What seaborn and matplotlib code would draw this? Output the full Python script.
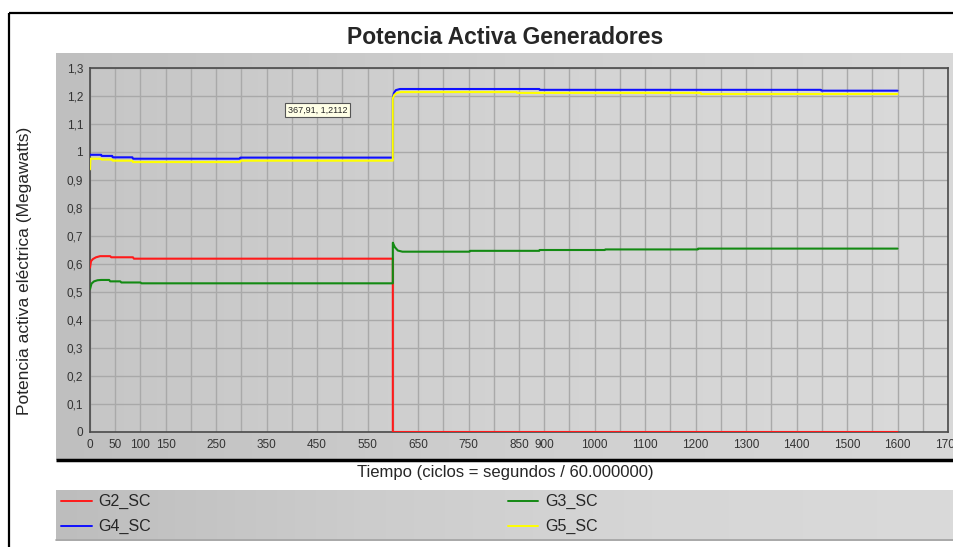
import numpy as np
import pandas as pd
import matplotlib
matplotlib.use("Agg")
import matplotlib.pyplot as plt
import seaborn as sns
from matplotlib.patches import Rectangle

# data (time in cycles, power in MW)
t_g2 = [0, 2, 6, 12, 20, 40, 42, 85, 87, 600, 600, 1600]
p_g2 = [0.587, 0.610, 0.618, 0.624, 0.628, 0.628, 0.624, 0.624, 0.619, 0.619, 0.0, 0.0]

t_g3 = [0, 3, 8, 15, 22, 38, 40, 60, 62, 100, 102, 600, 600, 604, 610, 619,
        752, 753, 890, 891, 1020, 1021, 1204, 1205, 1600]
p_g3 = [0.510, 0.530, 0.538, 0.542, 0.543, 0.543, 0.538, 0.538, 0.534, 0.534, 0.531, 0.531,
        0.676, 0.660, 0.648, 0.644, 0.644, 0.647, 0.647, 0.650, 0.650, 0.652, 0.652, 0.655, 0.655]

t_g4 = [0, 22, 23, 44, 45, 84, 85, 297, 298, 600, 600, 602, 606, 614, 890, 891, 1448, 1449, 1600]
p_g4 = [0.990, 0.990, 0.986, 0.986, 0.981, 0.981, 0.976, 0.976, 0.980, 0.980,
        1.192, 1.210, 1.221, 1.225, 1.225, 1.222, 1.222, 1.219, 1.219]

t_g5 = [0, 1, 22, 23, 44, 45, 84, 85, 297, 298, 600, 600, 603, 608, 616, 845, 846, 1210, 1211, 1600]
p_g5 = [0.938, 0.976, 0.976, 0.973, 0.973, 0.969, 0.969, 0.964, 0.964, 0.969, 0.969,
        1.192, 1.204, 1.211, 1.214, 1.214, 1.211, 1.211, 1.207, 1.207]

names = ["G2_SC", "G3_SC", "G4_SC", "G5_SC"]
colors = {"G2_SC": "#ff1a1a", "G3_SC": "#138a13", "G4_SC": "#1010ff", "G5_SC": "#ffff00"}

x_labels = [0, 50, 100, 150, 250, 350, 450, 550, 650, 750, 850, 900,
            1000, 1100, 1200, 1300, 1400, 1500, 1600, 1700]
y_ticks = [0, 0.1, 0.2, 0.3, 0.4, 0.5, 0.6, 0.7, 0.8, 0.9, 1.0, 1.1, 1.2, 1.3]

frames = []
for n, t, p in zip(names, [t_g2, t_g3, t_g4, t_g5], [p_g2, p_g3, p_g4, p_g5]):
    frames.append(pd.DataFrame({"t": t, "p": p, "gen": n}))
df = pd.concat(frames, ignore_index=True)

sns.set_style("white")
plt.rcParams["font.family"] = ["Liberation Sans", "DejaVu Sans"]

W, H = 954, 547
fig = plt.figure(figsize=(W / 100, H / 100), dpi=100)


def fx(x):
    return x / W


def fy(y):
    return 1 - y / H


def ramp(name, cols):
    return matplotlib.colors.LinearSegmentedColormap.from_list(name, cols)


# background decorations in pixel coords
bg = fig.add_axes([0, 0, 1, 1], zorder=-5)
bg.set_xlim(0, W)
bg.set_ylim(H, 0)
bg.axis("off")
grad = np.linspace(0, 1, 256).reshape(1, -1)
bg.imshow(grad, extent=(56, W, 460, 53), cmap=ramp("p", ["#bfbfbf", "#cfcfcf", "#d8d8d8"]),
          aspect="auto", zorder=1)
bg.imshow(grad, extent=(56, W, 539, 490), cmap=ramp("l", ["#bdbdbd", "#cccccc", "#d6d6d6", "#dadada"]),
          aspect="auto", zorder=1)
bg.plot([56, W], [460, 460], color="black", lw=2.5, zorder=2, solid_capstyle="butt")
bg.plot([56, W], [539.5, 539.5], color="#9a9a9a", lw=1.2, zorder=2)
bg.add_patch(Rectangle((9, 13), W + 20, H + 20, fill=False, edgecolor="black", lw=1.6, zorder=3))

ax = fig.add_axes([fx(90), fy(432), (948 - 90) / W, (432 - 68) / H])
ax.set_facecolor("none")
ax.imshow(grad, extent=(0, 1700, 0, 1.3), aspect="auto", zorder=0,
          cmap=ramp("a", ["#c6c6c6", "#d3d3d3", "#dadada"]))

sns.lineplot(data=df, x="t", y="p", hue="gen", hue_order=names, palette=colors,
             units="gen", estimator=None, sort=False, lw=1.5, legend=False, ax=ax, zorder=3)

ax.set_xlim(0, 1700)
ax.set_ylim(0, 1.3)
ax.set_xticks(np.arange(0, 1701, 50))
ax.set_xticklabels([str(v) if v in x_labels else "" for v in np.arange(0, 1701, 50)])
ax.set_yticks(y_ticks)
ax.set_yticklabels([("%g" % v).replace(".", ",") for v in y_ticks])
ax.tick_params(axis="both", labelsize=8.5, colors="#333333", length=3, width=0.8, pad=2)
ax.grid(True, color="#a9a9a9", lw=1.0)
ax.set_axisbelow(True)
for s in ax.spines.values():
    s.set_color("#4a4a4a")
    s.set_linewidth(1.2)
ax.set_xlabel("")
ax.set_ylabel("")

fig.text(fx(505), fy(38), "Potencia Activa Generadores", ha="center", va="center",
         fontsize=16.5, fontweight="bold")
fig.text(fx(25), fy(271), "Potencia activa eléctrica (Megawatts)", ha="center", va="center",
         rotation=90, fontsize=12.5)
fig.text(fx(505), fy(473), "Tiempo (ciclos = segundos / 60.000000)", ha="center", va="center",
         fontsize=12)
fig.text(fx(317.5), fy(110), "367,91, 1,2112", ha="center", va="center", fontsize=6.5,
         bbox=dict(boxstyle="square,pad=0.25", facecolor="#ffffe6", edgecolor="#555555", lw=0.8))

lines = {n: l for n, l in zip(names, ax.get_lines())}
leg = fig.legend([lines["G2_SC"], lines["G4_SC"], lines["G3_SC"], lines["G5_SC"]],
                 ["G2_SC", "G4_SC", "G3_SC", "G5_SC"], ncol=2, loc="upper left",
                 bbox_to_anchor=(fx(58), fy(491)), frameon=False, fontsize=11.5,
                 handlelength=1.9, handletextpad=0.45, labelspacing=0.62, columnspacing=22.3,
                 borderaxespad=0, borderpad=0.2)
for h in leg.legend_handles:
    h.set_linewidth(1.4)

fig.savefig("out.png", dpi=100)
